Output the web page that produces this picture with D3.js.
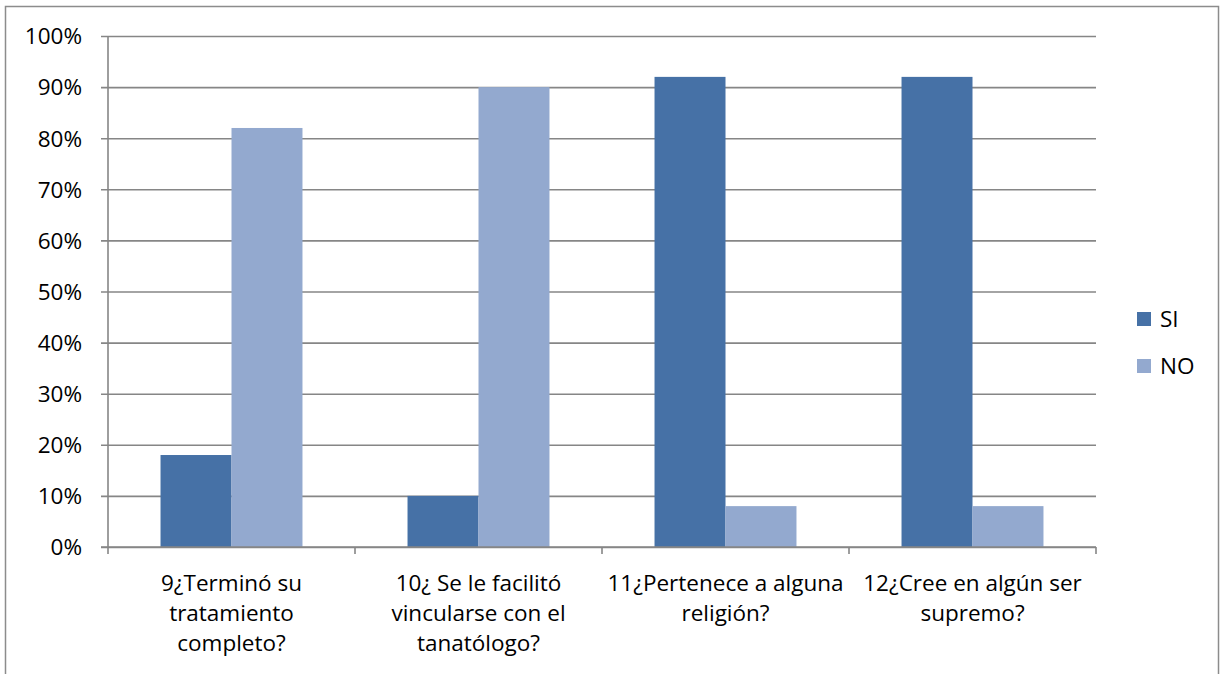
<!DOCTYPE html>
<html>
<head>
<meta charset="utf-8">
<script src="https://cdn.jsdelivr.net/npm/d3@7"></script>
<style>
  html, body { margin: 0; padding: 0; background: #fff; }
  svg { display: block; }
  svg text { font-family: "Open Sans", "Noto Sans", sans-serif; }
</style>
</head>
<body>
<svg id="chart" width="1220" height="674"></svg>
<script>
// Survey questions (each wrapped onto its own lines) and answer shares
const categories = ["q9", "q10", "q11", "q12"];
const categoryLines = [
  ["9¿Terminó su", "tratamiento", "completo?"],
  ["10¿ Se le facilitó", "vincularse con el", "tanatólogo?"],
  ["11¿Pertenece a alguna", "religión?"],
  ["12¿Cree en algún ser", "supremo?"]
];
const seriesNames = ["SI", "NO"];
const siValues = [0.18, 0.10, 0.92, 0.92];
const noValues = [0.82, 0.90, 0.08, 0.08];
const yTicks = [0, 0.1, 0.2, 0.3, 0.4, 0.5, 0.6, 0.7, 0.8, 0.9, 1.0];

const colors = { SI: "#4671A6", NO: "#93A9CF" };
const gridColor = "#868686";
const fontSize = 22.5;

const svg = d3.select("#chart");

// outer chart frame
svg.append("rect")
  .attr("x", 5.5).attr("y", 6.5)
  .attr("width", 1213).attr("height", 700)
  .attr("fill", "none").attr("stroke", "#8c8c8c").attr("stroke-width", 1.5);

const plot = { left: 108, right: 1096, top: 36, bottom: 547 };

const x = d3.scaleBand().domain(categories).range([plot.left, plot.right]).paddingInner(0).paddingOuter(0);
const xInner = d3.scaleBand().domain(seriesNames).range([0, x.bandwidth()]).paddingInner(0).paddingOuter(0.74);
const y = d3.scaleLinear().domain([0, 1]).range([plot.bottom, plot.top]);

// horizontal gridlines with short outward ticks
const yAxis = d3.axisLeft(y).tickValues(yTicks).tickFormat(d3.format(".0%"))
  .tickSize(-(plot.right - plot.left)).tickSizeOuter(0).tickPadding(0);
const gy = svg.append("g").attr("transform", `translate(${plot.left},0)`).call(yAxis)
  .attr("font-family", null).attr("font-size", null);
gy.select(".domain").remove();
gy.selectAll(".tick line").attr("x1", -7).attr("stroke", gridColor).attr("stroke-width", 1.6);
gy.selectAll(".tick text")
  .attr("x", -26).attr("fill", "#000").attr("font-size", fontSize)
  .attr("dy", "0.35em");

// vertical value axis line
svg.append("line")
  .attr("x1", plot.left).attr("x2", plot.left)
  .attr("y1", plot.top).attr("y2", plot.bottom)
  .attr("stroke", gridColor).attr("stroke-width", 1.6);

// bars
const data = categories.map((c, i) => ({ cat: c, values: [
  { key: "SI", v: siValues[i] }, { key: "NO", v: noValues[i] }
]}));

const groups = svg.append("g").selectAll("g").data(data).join("g")
  .attr("transform", d => `translate(${x(d.cat)},0)`);
groups.selectAll("rect").data(d => d.values).join("rect")
  .attr("x", d => xInner(d.key))
  .attr("width", xInner.bandwidth())
  .attr("y", d => y(d.v))
  .attr("height", d => y(0) - y(d.v))
  .attr("fill", d => colors[d.key]);

// category axis with ticks on band boundaries
const boundaries = categories.map(c => x(c)).concat([plot.right]);
const gx = svg.append("g");
gx.append("line")
  .attr("x1", plot.left - 7).attr("x2", plot.right)
  .attr("y1", plot.bottom).attr("y2", plot.bottom)
  .attr("stroke", gridColor).attr("stroke-width", 1.6);
gx.selectAll("line.tick").data(boundaries).join("line")
  .attr("class", "tick")
  .attr("x1", d => d).attr("x2", d => d)
  .attr("y1", plot.bottom).attr("y2", plot.bottom + 7)
  .attr("stroke", gridColor).attr("stroke-width", 1.6);

// category labels
const labels = svg.append("g").selectAll("text").data(categories).join("text")
  .attr("text-anchor", "middle")
  .attr("font-size", fontSize)
  .attr("fill", "#000")
  .attr("transform", d => `translate(${x(d) + x.bandwidth() / 2},591)`);
labels.each(function(d, i) {
  d3.select(this).selectAll("tspan").data(categoryLines[i]).join("tspan")
    .attr("x", 0).attr("dy", (l, j) => j === 0 ? 0 : 30)
    .text(l => l);
});

// legend
const legend = svg.append("g").selectAll("g").data(seriesNames).join("g")
  .attr("transform", (d, i) => `translate(1137,${312 + i * 47})`);
legend.append("rect").attr("width", 14).attr("height", 14).attr("fill", d => colors[d]);
legend.append("text").attr("x", 23).attr("y", 7).attr("dy", "0.35em")
  .attr("font-size", fontSize).attr("fill", "#000").text(d => d);
</script>
</body>
</html>
